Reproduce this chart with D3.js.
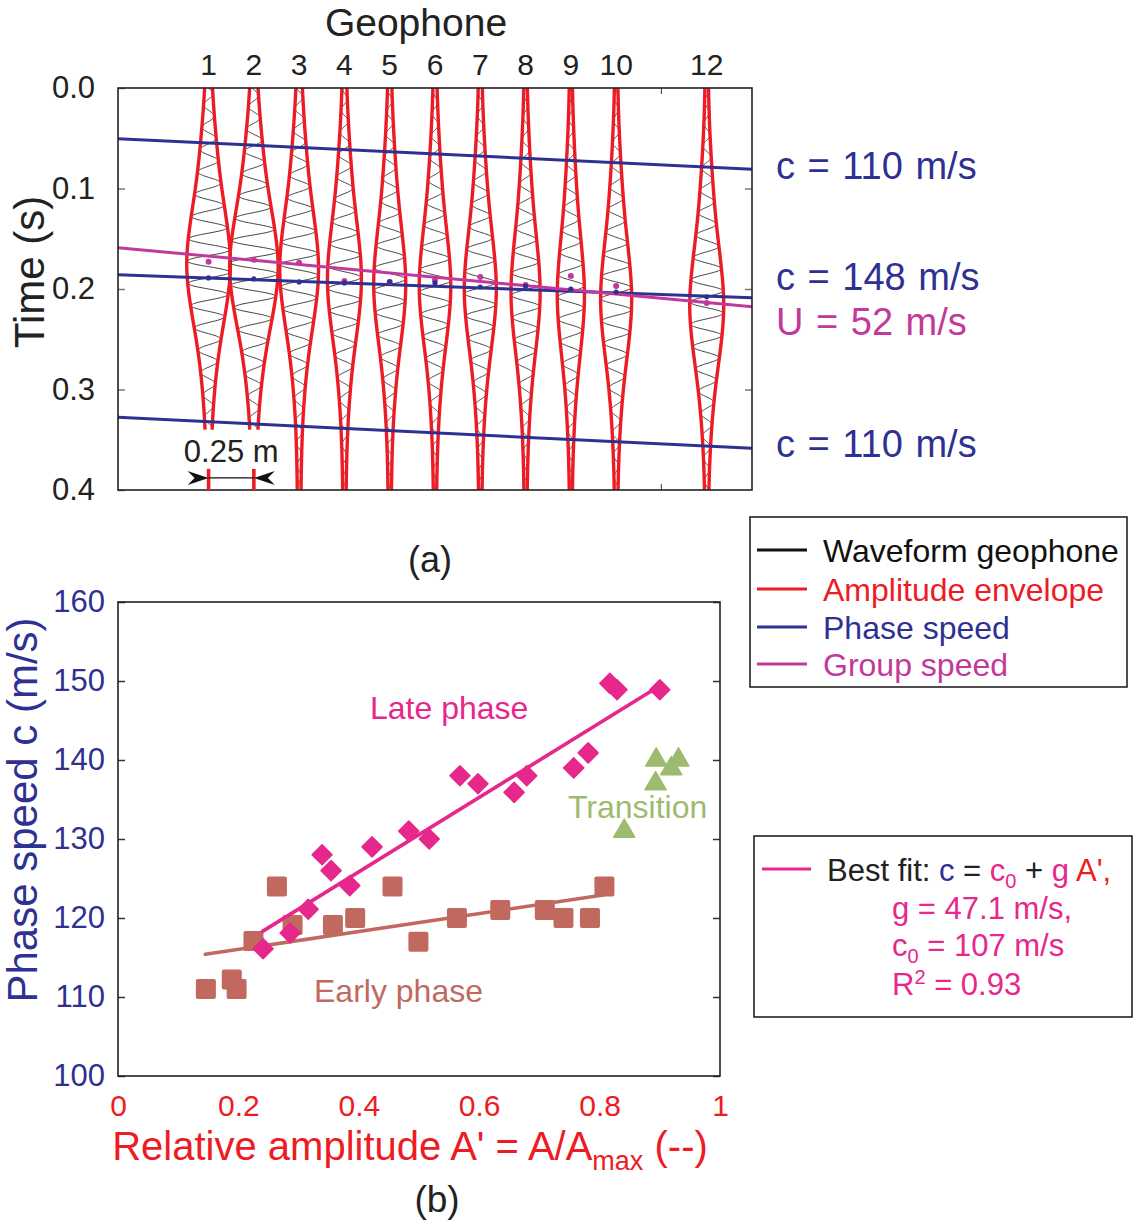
<!DOCTYPE html>
<html>
<head>
<meta charset="utf-8">
<script src="https://cdn.jsdelivr.net/npm/d3@7"></script>
<style>
  body { margin: 0; background: #fff; }
  text { font-family: "Liberation Sans", Arial, sans-serif; }
</style>
</head>
<body>
<div id="chart"></div>
<script>
// ---------- panel (a) data ----------
var geophones = [1, 2, 3, 4, 5, 6, 7, 8, 9, 10, 12];
var geophoneSpacing = 0.25;                       // m
var envAmp   = [0.9, 1.0, 0.8, 0.7, 0.66, 0.65, 0.66, 0.6, 0.56, 0.64, 0.7];
var envPeakT = [0.175, 0.178, 0.18, 0.19, 0.195, 0.197, 0.2, 0.203, 0.206, 0.21, 0.216];
var envEndT  = [0.34, 0.34, 0.4, 0.4, 0.4, 0.4, 0.4, 0.4, 0.4, 0.4, 0.4];
// envelope shape: fraction of peak at dt = -0.24 ... 0.24 s (step 0.04)
var envShape = [0.08, 0.11, 0.2, 0.34, 0.52, 0.8, 1.0, 0.8, 0.48, 0.27, 0.15, 0.1, 0.08];
var carrierHz = 45;
var groupDotT = [0.173, 0.171, 0.174, 0.192, 0.193, 0.191, 0.188, 0.196, 0.187, 0.197, 0.214];
var phaseDotT = [0.189, 0.19, 0.193, 0.194, 0.193, 0.194, 0.198, 0.197, 0.2, 0.203, 0.2077];
// line times at left / right edge of the panel
var phaseLineEnds = [[0.0504, 0.0809], [0.1858, 0.2087], [0.3277, 0.3585]];
var groupLineEnds = [0.1589, 0.2176];
var speedLabels = ["c = 110 m/s", "c = 148 m/s", "U = 52 m/s", "c = 110 m/s"];
var speedLabelT = [0.0766, 0.187, 0.232, 0.3532];
var timeTicks = [0, 0.1, 0.2, 0.3, 0.4];

// ---------- panel (b) data ----------
var lateA = [0.241, 0.286, 0.316, 0.339, 0.354, 0.385, 0.422, 0.483, 0.517, 0.568, 0.598, 0.658, 0.679, 0.757, 0.781, 0.817, 0.829, 0.900];
var lateC = [116.1, 118.1, 121.1, 128.0, 126.0, 124.1, 129.0, 131.0, 130.0, 138.0, 137.0, 135.9, 138.0, 139.0, 140.9, 149.7, 148.9, 148.9];
var earlyA = [0.146, 0.189, 0.197, 0.225, 0.264, 0.290, 0.357, 0.394, 0.456, 0.499, 0.563, 0.635, 0.709, 0.740, 0.784, 0.808];
var earlyC = [111.0, 112.2, 111.0, 117.1, 124.0, 119.1, 119.1, 120.0, 124.0, 117.0, 120.0, 121.0, 121.0, 120.0, 120.0, 124.0];
var transA = [0.894, 0.931, 0.919, 0.893, 0.841];
var transC = [140.0, 140.0, 138.9, 137.0, 131.0];
var lateFit = {c0: 107, g: 47.1, from: 0.24, to: 0.90};
var earlyFitA = [0.145, 0.806];
var earlyFitC = [115.4, 122.9];
var speedTicks = [100, 110, 120, 130, 140, 150, 160];
var ampTicks = [0, 0.2, 0.4, 0.6, 0.8, 1];

var blue = "#2e3192", red = "#ed1c24", purple = "#c2399b",
    pink = "#e6278c", brown = "#c1695f", green = "#9dbb6e";

var svg = d3.select("#chart").append("svg")
    .attr("width", 1135).attr("height", 1222);

// ================= panel (a) =================
var xM = d3.scaleLinear().domain([-0.5, 3.0]).range([118, 752]);
var tY = d3.scaleLinear().domain([0, 0.4]).range([88, 490]);
var ampPx = d3.scaleLinear().domain([0, 1]).range([0, 26]);
var shape = d3.interpolateBasis(envShape);
function envFrac(dt) {
    var u = (dt + 0.24) / 0.48;
    return shape(Math.max(0, Math.min(1, u)));
}

var panelA = svg.append("g");

panelA.append("text").attr("x", 416).attr("y", 36)
    .attr("text-anchor", "middle").style("font-size", "39px").attr("fill", "#222").text("Geophone");

panelA.selectAll(".glab").data(geophones).enter().append("text")
    .attr("x", d => xM((d - 1) * geophoneSpacing)).attr("y", 75)
    .attr("text-anchor", "middle").style("font-size", "30px").attr("fill", "#222").text(d => d);

var yAxA = panelA.append("g").attr("transform", "translate(118,0)")
    .call(d3.axisLeft(tY).tickValues(timeTicks).tickSize(-7).tickPadding(23).tickFormat(d3.format(".1f")));
yAxA.select(".domain").remove();
yAxA.selectAll("line").attr("stroke", "#777").attr("stroke-width", 1.5);
yAxA.selectAll("text").style("font-size", "31px").attr("fill", "#222")
    .style("font-family", "'Liberation Sans', Arial, sans-serif");

var yAxA2 = panelA.append("g").attr("transform", "translate(752,0)")
    .call(d3.axisRight(tY).tickValues([0.1, 0.2, 0.3]).tickSize(-7).tickFormat(""));
yAxA2.select(".domain").remove();
yAxA2.selectAll("line").attr("stroke", "#777").attr("stroke-width", 1.5);

[88, 490].forEach(function (y, k) {
    panelA.append("line").attr("x1", xM(2.5)).attr("x2", xM(2.5))
        .attr("y1", y).attr("y2", k ? y - 6 : y + 6).attr("stroke", "#555").attr("stroke-width", 1.2);
});

panelA.append("text")
    .attr("transform", "translate(44," + 272 + ") rotate(-90)")
    .attr("text-anchor", "middle").style("font-size", "42px").attr("fill", "#222").text("Time (s)");

// waveforms
var traceG = panelA.append("g");
geophones.forEach(function (g, i) {
    var xm = (g - 1) * geophoneSpacing, cx = xM(xm);
    var ts = d3.range(0, envEndT[i] + 1e-9, 0.0004);
    var hw = t => ampPx(envAmp[i] * envFrac(t - envPeakT[i]));
    traceG.append("path")
        .attr("d", d3.line()(ts.map(t => [cx + 0.97 * hw(t) * Math.sin(2 * Math.PI * carrierHz * (t - xm / 148)), tY(t)])))
        .attr("fill", "none").attr("stroke", "#111").attr("stroke-width", 0.8);
    [-1, 1].forEach(function (s) {
        traceG.append("path")
            .attr("d", d3.line()(ts.map(t => [cx + s * hw(t), tY(t)])))
            .attr("fill", "none").attr("stroke", red).attr("stroke-width", 3.4);
    });
});

// phase / group lines
phaseLineEnds.forEach(function (e) {
    panelA.append("line").attr("x1", xM(-0.5)).attr("y1", tY(e[0]))
        .attr("x2", xM(3.0)).attr("y2", tY(e[1]))
        .attr("stroke", blue).attr("stroke-width", 3);
});
panelA.append("line").attr("x1", xM(-0.5)).attr("y1", tY(groupLineEnds[0]))
    .attr("x2", xM(3.0)).attr("y2", tY(groupLineEnds[1]))
    .attr("stroke", purple).attr("stroke-width", 3);

panelA.selectAll(".gdot").data(geophones).enter().append("circle")
    .attr("cx", d => xM((d - 1) * geophoneSpacing)).attr("cy", (d, i) => tY(groupDotT[i]))
    .attr("r", 3).attr("fill", purple);
panelA.selectAll(".pdot").data(geophones).enter().append("circle")
    .attr("cx", d => xM((d - 1) * geophoneSpacing)).attr("cy", (d, i) => tY(phaseDotT[i]))
    .attr("r", 2.6).attr("fill", blue);

// box
panelA.append("rect").attr("x", 118).attr("y", 88).attr("width", 634).attr("height", 402)
    .attr("fill", "none").attr("stroke", "#222").attr("stroke-width", 1.6);

// speed labels
panelA.selectAll(".slab").data(speedLabels).enter().append("text")
    .attr("x", 776).attr("y", (d, i) => tY(speedLabelT[i])).attr("dy", "0.36em")
    .style("font-size", "38px").attr("fill", (d, i) => i === 2 ? purple : blue)
    .attr("word-spacing", "2px")
    .text(d => d);

// scale bar
[0, geophoneSpacing].forEach(function (xm) {
    panelA.append("line").attr("x1", xM(xm)).attr("x2", xM(xm))
        .attr("y1", tY(0.379)).attr("y2", tY(0.4)).attr("stroke", red).attr("stroke-width", 3.6);
});
panelA.append("line").attr("x1", xM(0)).attr("x2", xM(geophoneSpacing))
    .attr("y1", tY(0.388)).attr("y2", tY(0.388)).attr("stroke", "#111").attr("stroke-width", 1.2);
[[xM(0), 1], [xM(geophoneSpacing), -1]].forEach(function (a) {
    var x = a[0], s = a[1], y = tY(0.388);
    panelA.append("path")
        .attr("d", "M" + x + "," + y + "L" + (x - s * 21) + "," + (y - 7) + "L" + (x - s * 14) + "," + y +
            "L" + (x - s * 21) + "," + (y + 7) + "Z")
        .attr("fill", "#111");
});
panelA.append("text").attr("x", xM(geophoneSpacing / 2)).attr("y", 462)
    .attr("text-anchor", "middle").style("font-size", "31px").attr("fill", "#222").text("0.25 m");

panelA.append("text").attr("x", 430).attr("y", 572).attr("text-anchor", "middle")
    .style("font-size", "36px").attr("fill", "#222").text("(a)");

// legend (a)
var leg = svg.append("g");
leg.append("rect").attr("x", 750).attr("y", 517).attr("width", 377).attr("height", 170)
    .attr("fill", "none").attr("stroke", "#222").attr("stroke-width", 1.6);
var legItems = [["Waveform geophone", "#111"], ["Amplitude envelope", red], ["Phase speed", blue], ["Group speed", purple]];
var legY = [550, 589, 627, 664];
legItems.forEach(function (d, i) {
    leg.append("line").attr("x1", 757).attr("x2", 807).attr("y1", legY[i]).attr("y2", legY[i])
        .attr("stroke", d[1]).attr("stroke-width", 3);
    leg.append("text").attr("x", 823).attr("y", legY[i] + 12).style("font-size", "32px")
        .attr("fill", d[1]).text(d[0]);
});

// ================= panel (b) =================
var aX = d3.scaleLinear().domain([0, 1]).range([118, 720]);
var cY = d3.scaleLinear().domain([100, 160]).range([1076, 602]);
var panelB = svg.append("g");

var yAxB = panelB.append("g").attr("transform", "translate(118,0)")
    .call(d3.axisLeft(cY).tickValues(speedTicks).tickSize(-7).tickPadding(13));
yAxB.select(".domain").remove();
yAxB.selectAll("line").attr("stroke", "#333").attr("stroke-width", 1.5);
yAxB.selectAll("text").style("font-size", "31px").attr("fill", blue)
    .style("font-family", "'Liberation Sans', Arial, sans-serif");

var yAxB2 = panelB.append("g").attr("transform", "translate(720,0)")
    .call(d3.axisRight(cY).tickValues(speedTicks).tickSize(-7).tickFormat(""));
yAxB2.select(".domain").remove();
yAxB2.selectAll("line").attr("stroke", "#333").attr("stroke-width", 1.5);

var xAxB = panelB.append("g").attr("transform", "translate(0,1076)")
    .call(d3.axisBottom(aX).tickValues(ampTicks).tickSize(0).tickPadding(19)
        .tickFormat(d => (d === 0 || d === 1) ? String(d) : d.toFixed(1)));
xAxB.select(".domain").remove();
xAxB.selectAll("text").style("font-size", "30px").attr("fill", red)
    .style("font-family", "'Liberation Sans', Arial, sans-serif");

panelB.append("rect").attr("x", 118).attr("y", 602).attr("width", 602).attr("height", 474)
    .attr("fill", "none").attr("stroke", "#222").attr("stroke-width", 1.6);

var xt = panelB.append("text").attr("x", 410).attr("y", 1160).attr("text-anchor", "middle")
    .style("font-size", "40px").attr("fill", red);
xt.append("tspan").text("Relative amplitude A' = A/A");
xt.append("tspan").attr("dy", 10).style("font-size", "27px").text("max");
xt.append("tspan").attr("dy", -10).text(" (--)");

panelB.append("text").attr("transform", "translate(37,810) rotate(-90)")
    .attr("text-anchor", "middle").style("font-size", "42px").attr("fill", blue)
    .text("Phase speed c (m/s)");

panelB.append("text").attr("x", 437).attr("y", 1212).attr("text-anchor", "middle")
    .style("font-size", "37px").attr("fill", "#222").text("(b)");

// early squares
panelB.selectAll(".sq").data(earlyA).enter().append("rect")
    .attr("x", d => aX(d) - 10).attr("y", (d, i) => cY(earlyC[i]) - 10)
    .attr("width", 20).attr("height", 20).attr("rx", 2).attr("fill", brown);
panelB.append("line").attr("x1", aX(earlyFitA[0])).attr("y1", cY(earlyFitC[0]))
    .attr("x2", aX(earlyFitA[1])).attr("y2", cY(earlyFitC[1]))
    .attr("stroke", brown).attr("stroke-width", 3.6).attr("stroke-linecap", "round");

// late diamonds
var diamond = d3.symbol().type(d3.symbolSquare).size(200);
panelB.selectAll(".dm").data(lateA).enter().append("path")
    .attr("d", diamond)
    .attr("transform", (d, i) => "translate(" + aX(d) + "," + cY(lateC[i]) + ") rotate(45)")
    .attr("fill", pink).attr("stroke", pink).attr("stroke-width", 1.5).attr("stroke-linejoin", "round");
panelB.append("line")
    .attr("x1", aX(lateFit.from)).attr("y1", cY(lateFit.c0 + lateFit.g * lateFit.from))
    .attr("x2", aX(lateFit.to)).attr("y2", cY(lateFit.c0 + lateFit.g * lateFit.to))
    .attr("stroke", pink).attr("stroke-width", 3.6).attr("stroke-linecap", "round");

// transition triangles
var tri = d3.symbol().type(d3.symbolTriangle).size(190);
panelB.selectAll(".tr").data(transA).enter().append("path")
    .attr("d", tri)
    .attr("transform", (d, i) => "translate(" + aX(d) + "," + cY(transC[i]) + ")")
    .attr("fill", green).attr("stroke", green).attr("stroke-width", 1.5).attr("stroke-linejoin", "round");

panelB.append("text").attr("x", 370).attr("y", 719).style("font-size", "32px").attr("fill", pink).text("Late phase");
panelB.append("text").attr("x", 568).attr("y", 818).style("font-size", "32px").attr("fill", green).text("Transition");
panelB.append("text").attr("x", 314).attr("y", 1002).style("font-size", "32px").attr("fill", brown).text("Early phase");

// legend (b)
var leg2 = svg.append("g");
leg2.append("rect").attr("x", 754).attr("y", 836).attr("width", 378).attr("height", 181)
    .attr("fill", "none").attr("stroke", "#222").attr("stroke-width", 1.6);
leg2.append("line").attr("x1", 762).attr("x2", 811).attr("y1", 869).attr("y2", 869)
    .attr("stroke", pink).attr("stroke-width", 3);
var l1 = leg2.append("text").attr("x", 827).attr("y", 881).style("font-size", "31px").attr("fill", "#222");
l1.append("tspan").text("Best fit: ");
l1.append("tspan").attr("fill", blue).text("c");
l1.append("tspan").text(" = ");
l1.append("tspan").attr("fill", pink).text("c");
l1.append("tspan").attr("fill", pink).attr("dy", 7).style("font-size", "20px").text("0");
l1.append("tspan").attr("dy", -7).text(" + ");
l1.append("tspan").attr("fill", pink).text("g");
l1.append("tspan").attr("fill", red).text(" A',");
leg2.append("text").attr("x", 892).attr("y", 919).style("font-size", "31px").attr("fill", pink).text("g = 47.1 m/s,");
var l3 = leg2.append("text").attr("x", 892).attr("y", 956).style("font-size", "31px").attr("fill", pink);
l3.append("tspan").text("c");
l3.append("tspan").attr("dy", 7).style("font-size", "20px").text("0");
l3.append("tspan").attr("dy", -7).text(" = 107 m/s");
var l4 = leg2.append("text").attr("x", 892).attr("y", 995).style("font-size", "31px").attr("fill", pink);
l4.append("tspan").text("R");
l4.append("tspan").attr("dy", -11).style("font-size", "20px").text("2");
l4.append("tspan").attr("dy", 11).text(" = 0.93");
</script>
</body>
</html>
